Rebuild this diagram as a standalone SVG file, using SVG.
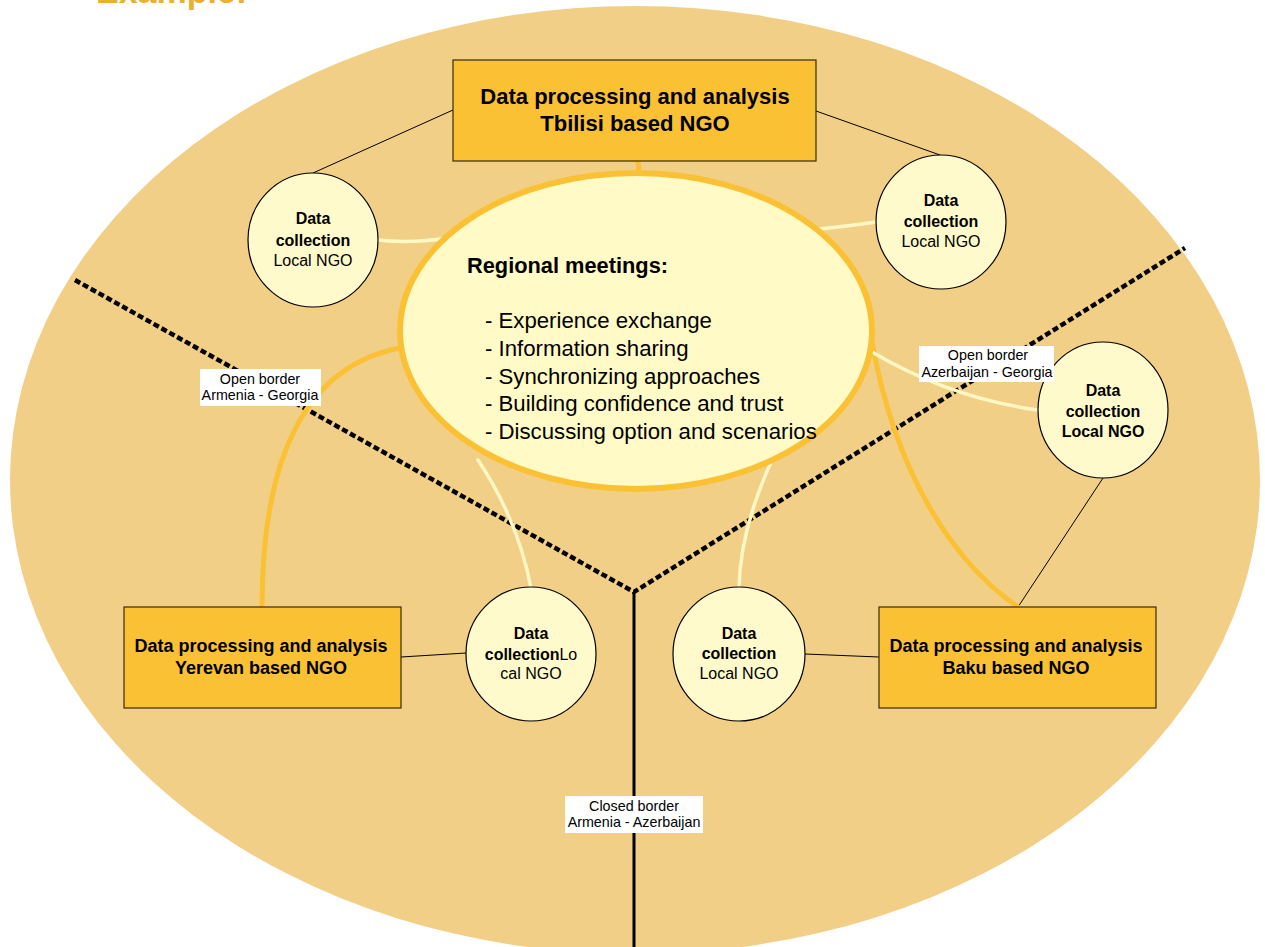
<svg xmlns="http://www.w3.org/2000/svg" width="1265" height="947" viewBox="0 0 1265 947">
<style>
text{font-family:"Liberation Sans",Arial,sans-serif;fill:#000}
.b{font-weight:bold}
.box{fill:#FBC134;stroke:#3a2a10;stroke-width:1.2}
.circ{fill:#FFFACB;stroke:#000;stroke-width:1.2}
.thin{fill:none;stroke:#000;stroke-width:1}
.orange{fill:none;stroke:#FBC134;stroke-width:5;stroke-linecap:round}
.light{fill:none;stroke:#FFF8C4;stroke-width:3.5;stroke-linecap:round}
.dash{fill:none;stroke:#000;stroke-width:4.5;stroke-dasharray:6 3}
.lab{fill:#fff}
.ct{font-size:16px}
.bt{font-size:18px;font-weight:bold}
.lt{font-size:14.3px}
.mt{font-size:22.2px}
</style>
<rect width="1265" height="947" fill="#fff"/>
<text x="96" y="3" style="font-size:34px;font-weight:bold;fill:#E9B12F">Example:</text>
<ellipse id="region" cx="635" cy="480" rx="625" ry="474" fill="#F2CF87"/>
<g id="borders">
<path class="dash" d="M75 280 L634 592 L1185 248"/>
<line x1="634" y1="592" x2="634" y2="947" stroke="#000" stroke-width="3"/>
</g>
<g id="connectors">
<line class="thin" x1="453" y1="110" x2="313" y2="173"/>
<line class="thin" x1="816" y1="111" x2="940" y2="155"/>
<line class="thin" x1="401" y1="657" x2="466" y2="653"/>
<line class="thin" x1="805" y1="654" x2="879" y2="657"/>
<line class="thin" x1="1103" y1="478" x2="1018" y2="607"/>
<path class="orange" d="M637 161 Q641 168 636 176"/>
<path class="orange" d="M400 348 C310 365 262 450 262 607"/>
<path class="orange" d="M872 342 C895 470 950 560 1018 607"/>
<path class="light" d="M378 240 Q430 246 492 228"/>
<path class="light" d="M876 222 Q830 229 780 232"/>
<path class="light" d="M872 352 Q950 398 1038 410"/>
<path class="light" d="M478 460 Q518 520 531 588"/>
<path class="light" d="M772 460 Q740 530 739 588"/>
</g>
<g id="tbilisi">
<rect class="box" x="453" y="60" width="363" height="101"/>
<text x="635" y="104" text-anchor="middle" class="b" style="font-size:22px">Data processing and analysis</text>
<text x="635" y="131" text-anchor="middle" class="b" style="font-size:22px">Tbilisi based NGO</text>
</g>
<g id="meetings">
<ellipse cx="636" cy="331" rx="236" ry="158" fill="#FFFAC6" stroke="#FBC134" stroke-width="6"/>
<text x="467" y="273" class="b" style="font-size:21.8px">Regional meetings:</text>
<text x="485" y="328" class="mt">- Experience exchange</text>
<text x="485" y="356" class="mt">- Information sharing</text>
<text x="485" y="384" class="mt">- Synchronizing approaches</text>
<text x="485" y="411" class="mt">- Building confidence and trust</text>
<text x="485" y="439" class="mt">- Discussing option and scenarios</text>
</g>
<g id="dc-topleft">
<ellipse class="circ" cx="313" cy="240" rx="65" ry="67"/>
<text x="313" y="224" text-anchor="middle" class="ct b">Data</text>
<text x="313" y="246" text-anchor="middle" class="ct b">collection</text>
<text x="313" y="266" text-anchor="middle" class="ct">Local NGO</text>
</g>
<g id="dc-topright">
<ellipse class="circ" cx="941" cy="222" rx="65" ry="67"/>
<text x="941" y="206" text-anchor="middle" class="ct b">Data</text>
<text x="941" y="227" text-anchor="middle" class="ct b">collection</text>
<text x="941" y="247" text-anchor="middle" class="ct">Local NGO</text>
</g>
<g id="dc-right">
<ellipse class="circ" cx="1103" cy="410" rx="65" ry="68"/>
<text x="1103" y="396" text-anchor="middle" class="ct b">Data</text>
<text x="1103" y="417" text-anchor="middle" class="ct b">collection</text>
<text x="1103" y="437" text-anchor="middle" class="ct b">Local NGO</text>
</g>
<g id="yerevan">
<rect class="box" x="124" y="607" width="277" height="101"/>
<text x="261" y="652" text-anchor="middle" class="bt">Data processing and analysis</text>
<text x="261" y="674" text-anchor="middle" class="bt">Yerevan based NGO</text>
</g>
<g id="dc-yerevan">
<ellipse class="circ" cx="531" cy="654" rx="65" ry="67"/>
<text x="531" y="639" text-anchor="middle" class="ct b">Data</text>
<text x="531" y="660" text-anchor="middle" class="ct"><tspan class="b">collection</tspan>Lo</text>
<text x="531" y="679" text-anchor="middle" class="ct">cal NGO</text>
</g>
<g id="dc-baku">
<ellipse class="circ" cx="739" cy="654" rx="66" ry="67"/>
<text x="739" y="639" text-anchor="middle" class="ct b">Data</text>
<text x="739" y="659" text-anchor="middle" class="ct b">collection</text>
<text x="739" y="679" text-anchor="middle" class="ct">Local NGO</text>
</g>
<g id="baku">
<rect class="box" x="879" y="607" width="277" height="101"/>
<text x="1016" y="652" text-anchor="middle" class="bt">Data processing and analysis</text>
<text x="1016" y="674" text-anchor="middle" class="bt">Baku based NGO</text>
</g>
<g id="label-am-ge">
<rect class="lab" x="200" y="369" width="121" height="37"/>
<text x="260" y="384" text-anchor="middle" class="lt">Open border</text>
<text x="260" y="400" text-anchor="middle" class="lt">Armenia - Georgia</text>
</g>
<g id="label-az-ge">
<rect class="lab" x="919" y="346" width="135" height="36"/>
<text x="988" y="360" text-anchor="middle" class="lt">Open border</text>
<text x="987" y="377" text-anchor="middle" class="lt">Azerbaijan - Georgia</text>
</g>
<g id="label-am-az">
<rect class="lab" x="565" y="796" width="138" height="37"/>
<text x="634" y="811" text-anchor="middle" class="lt">Closed border</text>
<text x="634" y="827" text-anchor="middle" class="lt">Armenia - Azerbaijan</text>
</g>
</svg>
